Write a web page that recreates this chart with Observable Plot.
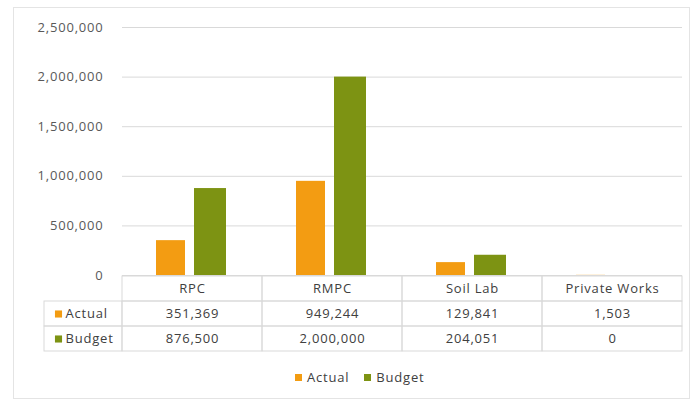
<!DOCTYPE html>
<html>
<head>
<meta charset="utf-8">
<script src="https://cdn.jsdelivr.net/npm/d3@7"></script>
<script src="https://cdn.jsdelivr.net/npm/@observablehq/plot@0.6"></script>
<style>
  body { margin: 0; background: #fff; font-family: "Open Sans", sans-serif; }
  #wrap { position: relative; width: 693px; height: 403px; overflow: hidden; background: #fff; }
  #frame { position: absolute; left: 13px; top: 7px; width: 677px; height: 392px; border: 1px solid #e4e4e4; box-sizing: border-box; }
  #chart, #table { position: absolute; left: 0; }
  #chart { top: 0; }
  #table { top: 275px; }
  #legend { position: absolute; top: 368px; left: 295px; display: flex; align-items: center;
            font: 13px "Open Sans", sans-serif; letter-spacing: 0.8px; color: #404040; }
  #legend .sw { width: 7px; height: 7px; margin-right: 5px; }
  #legend .item { display: flex; align-items: center; margin-right: 15px; }
</style>
</head>
<body>
<div id="wrap">
  <div id="frame"></div>
  <div id="chart"></div>
  <div id="table"></div>
  <div id="legend"></div>
</div>
<script>
// ---- data ----
const categories = ["RPC", "RMPC", "Soil Lab", "Private Works"];
const seriesNames = ["Actual", "Budget"];
const actual = [351369, 949244, 129841, 1503];
const budget = [876500, 2000000, 204051, 0];
const yTicks = [0, 500000, 1000000, 1500000, 2000000, 2500000];
const colors = ["#F39C12", "#7D9313"];

const fmt = d3.format(",");
const data = categories.map((c, i) => ({category: c, actual: actual[i], budget: budget[i]}));

const textStyle = {fontFamily: "'Open Sans', sans-serif", fontSize: "13px", letterSpacing: "0.8px", background: "transparent", overflow: "visible"};

// ---- chart ----
const chart = Plot.plot({
  width: 693, height: 276,
  marginTop: 27, marginBottom: 1, marginLeft: 122, marginRight: 11,
  style: {...textStyle, color: "#595959"},
  x: {domain: categories, padding: 0, axis: null},
  y: {domain: [0, 2500000], axis: null},
  marks: [
    Plot.gridY(yTicks, {stroke: "#d9d9d9", strokeOpacity: 1}),
    Plot.axisY(yTicks, {tickSize: 0, tickPadding: 19, tickFormat: fmt, label: null, fill: "#595959"}),
    Plot.barY(data, {x: "category", y: "actual", fill: colors[0], insetLeft: 34, insetRight: 77}),
    Plot.barY(data, {x: "category", y: "budget", fill: colors[1], insetLeft: 72, insetRight: 36})
  ]
});
document.getElementById("chart").append(chart);

// ---- data table ----
const rows = ["header", ...seriesNames];
const cells = [];
categories.forEach((c, i) => {
  cells.push({category: c, row: "header", text: c});
  cells.push({category: c, row: "Actual", text: fmt(actual[i])});
  cells.push({category: c, row: "Budget", text: fmt(budget[i])});
});
const labelRows = seriesNames.map((s, i) => ({row: s, color: colors[i]}));

const table = Plot.plot({
  width: 693, height: 78,
  marginTop: 0, marginBottom: 1, marginLeft: 122, marginRight: 11,
  style: {...textStyle, color: "#404040"},
  x: {domain: categories, padding: 0, axis: null},
  y: {domain: rows, padding: 0, axis: null},
  marks: [
    Plot.cell(cells, {x: "category", y: "row", fill: "none", stroke: "#d9d9d9"}),
    Plot.cell(labelRows, {x: () => categories[0], y: "row", fill: "none", stroke: "#d9d9d9", insetLeft: -78, insetRight: 140}),
    Plot.text(cells, {x: "category", y: "row", text: "text", fill: "#404040"}),
    Plot.dot(labelRows, {y: "row", frameAnchor: "left", dx: -64, symbol: "square", r: 4, fill: "color", stroke: null}),
    Plot.text(labelRows, {y: "row", frameAnchor: "left", dx: -57, textAnchor: "start", text: "row", fill: "#404040"})
  ]
});
document.getElementById("table").append(table);

// ---- legend ----
const legend = document.getElementById("legend");
seriesNames.forEach((s, i) => {
  const item = document.createElement("div");
  item.className = "item";
  const sw = document.createElement("div");
  sw.className = "sw";
  sw.style.background = colors[i];
  const t = document.createElement("span");
  t.textContent = s;
  item.append(sw, t);
  legend.append(item);
});
</script>
</body>
</html>
